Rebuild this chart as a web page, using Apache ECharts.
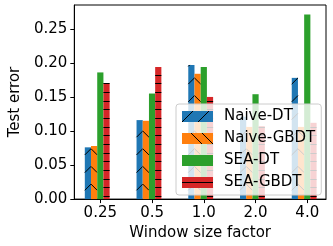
<!DOCTYPE html>
<html><head><meta charset="utf-8">
<script src="https://cdn.jsdelivr.net/npm/echarts@6/dist/echarts.min.js"></script>
<style>html,body{margin:0;padding:0;background:#fff}#c{width:333px;height:246px}</style>
</head><body><div id="c"></div>
<script>
const categories = ['0.25', '0.5', '1.0', '2.0', '4.0'];
const naiveDT   = [0.076, 0.116, 0.197, 0.121, 0.178];
const naiveGBDT = [0.078, 0.115, 0.184, 0.106, 0.106];
const seaDT     = [0.186, 0.155, 0.194, 0.154, 0.271];
const seaGBDT   = [0.170, 0.194, 0.150, 0.107, 0.112];
const yTicks = [0, 0.05, 0.10, 0.15, 0.20, 0.25];
const seriesNames = ['Naive-DT', 'Naive-GBDT', 'SEA-DT', 'SEA-GBDT'];
const colors = ['#1f77b4', '#ff7f0e', '#2ca02c', '#d62728'];
const hatches = ['/', '\\', '', '-'];
const allData = [naiveDT, naiveGBDT, seaDT, seaGBDT];

const W = 0.12;               // bar width in axis units
const offsets = [-2 * W, -W, 0, W];
const P = 17.7;                // diagonal hatch period (px)
const PH = 8.67;               // horizontal hatch period (px)

function hatchLines(kind, x0, x1, y0, y1) {
  const out = [];
  const wpx = x1 - x0;
  const st = { stroke: '#000', lineWidth: 1 };
  if (kind === '/') {
    for (let k = -3; k < 40; k++) {
      const C = x0 + y1 - 8.8 - k * P;
      const xa = Math.max(x0, C - y1), xb = Math.min(x1, C - y0);
      if (xb > xa) out.push({ type: 'line', shape: { x1: xa, y1: C - xa, x2: xb, y2: C - xb }, style: st });
    }
  } else if (kind === '\\') {
    for (let k = -3; k < 40; k++) {
      const D = (y1 - 8.8 - wpx - k * P) - x0;
      const xa = Math.max(x0, y0 - D), xb = Math.min(x1, y1 - D);
      if (xb > xa) out.push({ type: 'line', shape: { x1: xa, y1: xa + D, x2: xb, y2: xb + D }, style: st });
    }
  } else if (kind === '-') {
    for (let k = 0; k < 60; k++) {
      const y = Math.round(y1 - 3 - k * PH) + 0.5;
      if (y < y0) break;
      out.push({ type: 'line', shape: { x1: x0, y1: y, x2: x1, y2: y }, style: st });
    }
  }
  return out;
}

function makeRender(si) {
  return function (params, api) {
    const xi = api.value(0), v = api.value(1);
    const pTop = api.coord([xi + offsets[si] - W / 2, v]);
    const pBase = api.coord([xi + offsets[si] + W / 2, 0]);
    const x0 = pTop[0], x1 = pBase[0], y0 = pTop[1], y1 = pBase[1];
    const children = [{ type: 'rect', shape: { x: x0, y: y0, width: x1 - x0, height: y1 - y0 }, style: { fill: colors[si] } }];
    return { type: 'group', children: children.concat(hatchLines(hatches[si], x0, x1, y0, y1)) };
  };
}

function iconFor(si) {
  const c = document.createElement('canvas');
  c.width = 31; c.height = 11;
  const g = c.getContext('2d');
  g.fillStyle = colors[si]; g.fillRect(0, 0, 31, 11);
  g.strokeStyle = '#000'; g.lineWidth = 1;
  g.beginPath();
  if (hatches[si] === '/') {
    g.moveTo(0, 11); g.lineTo(11, 0);
    g.moveTo(16, 11); g.lineTo(27, 0);
  } else if (hatches[si] === '\\') {
    g.moveTo(9, 0); g.lineTo(20, 11);
    g.moveTo(20, 0); g.lineTo(31, 11);
  } else if (hatches[si] === '-') {
    g.moveTo(0, 5.5); g.lineTo(31, 5.5);
  }
  g.stroke();
  return 'image://' + c.toDataURL();
}

const chart = echarts.init(document.getElementById('c'), null, { renderer: 'canvas' });
const font = 'DejaVu Sans';
chart.setOption({
  animation: false,
  textStyle: { fontFamily: font },
  grid: { left: 61, right: 7, top: 5, bottom: 43, show: true, borderColor: '#000', borderWidth: 1, backgroundColor: 'transparent' },
  xAxis: {
    type: 'value', min: -0.503, max: 4.362,
    name: 'Window size factor', nameLocation: 'middle', nameGap: 21,
    nameTextStyle: { fontSize: 15, color: '#000', fontFamily: font },
    axisLine: { onZero: false, lineStyle: { color: '#000', width: 1 } },
    axisTick: { customValues: [0, 1, 2, 3, 4], length: 4, lineStyle: { color: '#000' } },
    axisLabel: { customValues: [0, 1, 2, 3, 4], formatter: v => categories[Math.round(v)], fontSize: 15, color: '#000', margin: 7, fontFamily: font },
    splitLine: { show: false }
  },
  yAxis: {
    type: 'value', min: 0, max: 0.285,
    name: 'Test error', nameLocation: 'middle', nameGap: 41,
    nameTextStyle: { fontSize: 15, color: '#000', fontFamily: font },
    axisLine: { show: true, onZero: false, lineStyle: { color: '#000', width: 1 } },
    axisTick: { show: true, customValues: yTicks, length: 4, lineStyle: { color: '#000' } },
    axisLabel: { customValues: yTicks, formatter: v => v.toFixed(2), fontSize: 15, color: '#000', margin: 7, fontFamily: font },
    splitLine: { show: false }
  },
  legend: {
    orient: 'vertical', left: 176, top: 104,
    padding: [5, 6, 5, 6],
    itemWidth: 31, itemHeight: 11, itemGap: 7,
    backgroundColor: 'rgba(255,255,255,0.8)', borderColor: '#cccccc', borderWidth: 1, borderRadius: 3,
    textStyle: { fontSize: 15, color: '#000', fontFamily: font, padding: [0, 0, 0, 6] },
    data: seriesNames.map((n, i) => ({ name: n, icon: iconFor(i) }))
  },
  series: seriesNames.map((n, si) => ({
    type: 'custom', name: n, color: colors[si],
    renderItem: makeRender(si),
    encode: { x: 0, y: 1 },
    data: allData[si].map((v, i) => [i, v])
  }))
});
</script></body></html>
